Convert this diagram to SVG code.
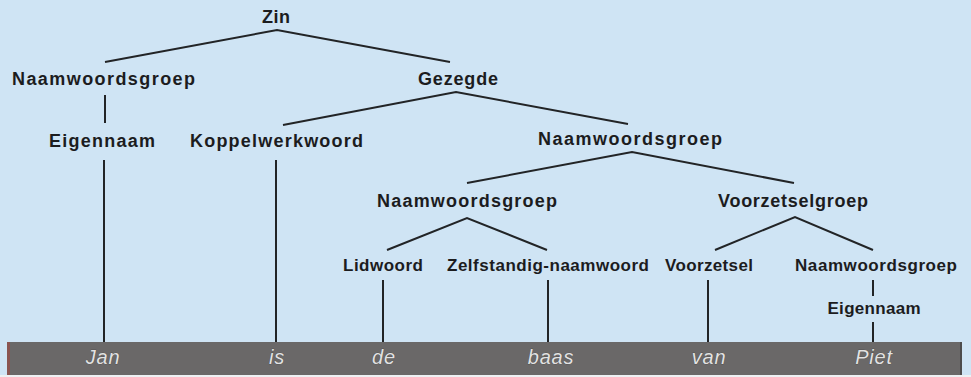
<svg xmlns="http://www.w3.org/2000/svg" width="971" height="377" viewBox="0 0 971 377">
  <style>
    .lbl { font-family: "Liberation Sans", Arial, sans-serif; font-size: 18px; font-weight: bold; fill: #1c1c1e; text-anchor: middle; }
    .sm { font-size: 17px; }
    .word { font-family: "Liberation Sans", Arial, sans-serif; font-size: 20px; font-style: italic; letter-spacing: 0.8px; fill: #e2e2e2; text-anchor: middle; stroke: #3a3a3a; stroke-width: 0.5px; paint-order: stroke; }
    .edge { stroke: #222426; stroke-width: 2; fill: none; stroke-linecap: butt; }
  </style>

  <!-- background -->
  <rect x="0" y="0" width="971" height="377" fill="#cfe4f4"/>
  <rect x="0" y="375" width="971" height="2" fill="#eef1f3"/>

  <!-- word strip -->
  <g id="strip">
    <rect x="7" y="342" width="955" height="33" fill="#6a6868"/>
    <rect x="7" y="342" width="3" height="33" fill="#8a5550"/>
    <rect x="960" y="342" width="2" height="33" fill="#4e4c4c"/>
    <text class="word" x="103" y="364">Jan</text>
    <text class="word" x="277" y="364">is</text>
    <text class="word" x="384" y="364">de</text>
    <text class="word" x="551" y="364">baas</text>
    <text class="word" x="709" y="364">van</text>
    <text class="word" x="874" y="364">Piet</text>
  </g>

  <!-- connectors -->
  <g id="connectors">
    <polyline class="edge" points="105,62 277,30 450,62"/>
    <line class="edge" x1="105" y1="95" x2="105" y2="123"/>
    <polyline class="edge" points="283,125 456,92 628,124"/>
    <line class="edge" x1="104" y1="160" x2="104" y2="342"/>
    <line class="edge" x1="276" y1="160" x2="276" y2="342"/>
    <polyline class="edge" points="467,183 632,152 794,183"/>
    <polyline class="edge" points="387,250 467,218 547,250"/>
    <polyline class="edge" points="715,250 795,217 873,250"/>
    <line class="edge" x1="383" y1="280" x2="383" y2="342"/>
    <line class="edge" x1="548" y1="280" x2="548" y2="342"/>
    <line class="edge" x1="708" y1="280" x2="708" y2="342"/>
    <line class="edge" x1="873" y1="280" x2="873" y2="296"/>
    <line class="edge" x1="873" y1="322" x2="873" y2="342"/>
  </g>

  <!-- nodes -->
  <g id="zin"><text class="lbl" x="276" y="23" textLength="28" lengthAdjust="spacing">Zin</text></g>
  <g id="nwg-subject"><text class="lbl" x="103.5" y="85" textLength="183" lengthAdjust="spacing">Naamwoordsgroep</text></g>
  <g id="gezegde"><text class="lbl" x="458" y="85" textLength="80" lengthAdjust="spacing">Gezegde</text></g>
  <g id="eigennaam-jan"><text class="lbl" x="102" y="147" textLength="106" lengthAdjust="spacing">Eigennaam</text></g>
  <g id="koppelwerkwoord"><text class="lbl" x="276.5" y="147" textLength="173" lengthAdjust="spacing">Koppelwerkwoord</text></g>
  <g id="nwg-predicate"><text class="lbl" x="630" y="145" textLength="184" lengthAdjust="spacing">Naamwoordsgroep</text></g>
  <g id="nwg-head"><text class="lbl" x="467" y="207" textLength="180" lengthAdjust="spacing">Naamwoordsgroep</text></g>
  <g id="voorzetselgroep"><text class="lbl" x="793" y="207" textLength="150" lengthAdjust="spacing">Voorzetselgroep</text></g>
  <g id="lidwoord"><text class="lbl sm" x="383" y="271" textLength="80" lengthAdjust="spacing">Lidwoord</text></g>
  <g id="zelfstandig-naamwoord"><text class="lbl sm" x="548" y="271" textLength="202" lengthAdjust="spacing">Zelfstandig-naamwoord</text></g>
  <g id="voorzetsel"><text class="lbl sm" x="709" y="271" textLength="88" lengthAdjust="spacing">Voorzetsel</text></g>
  <g id="nwg-piet"><text class="lbl sm" x="876" y="271" textLength="162" lengthAdjust="spacing">Naamwoordsgroep</text></g>
  <g id="eigennaam-piet"><text class="lbl sm" x="874" y="314" textLength="93" lengthAdjust="spacing">Eigennaam</text></g>
</svg>
